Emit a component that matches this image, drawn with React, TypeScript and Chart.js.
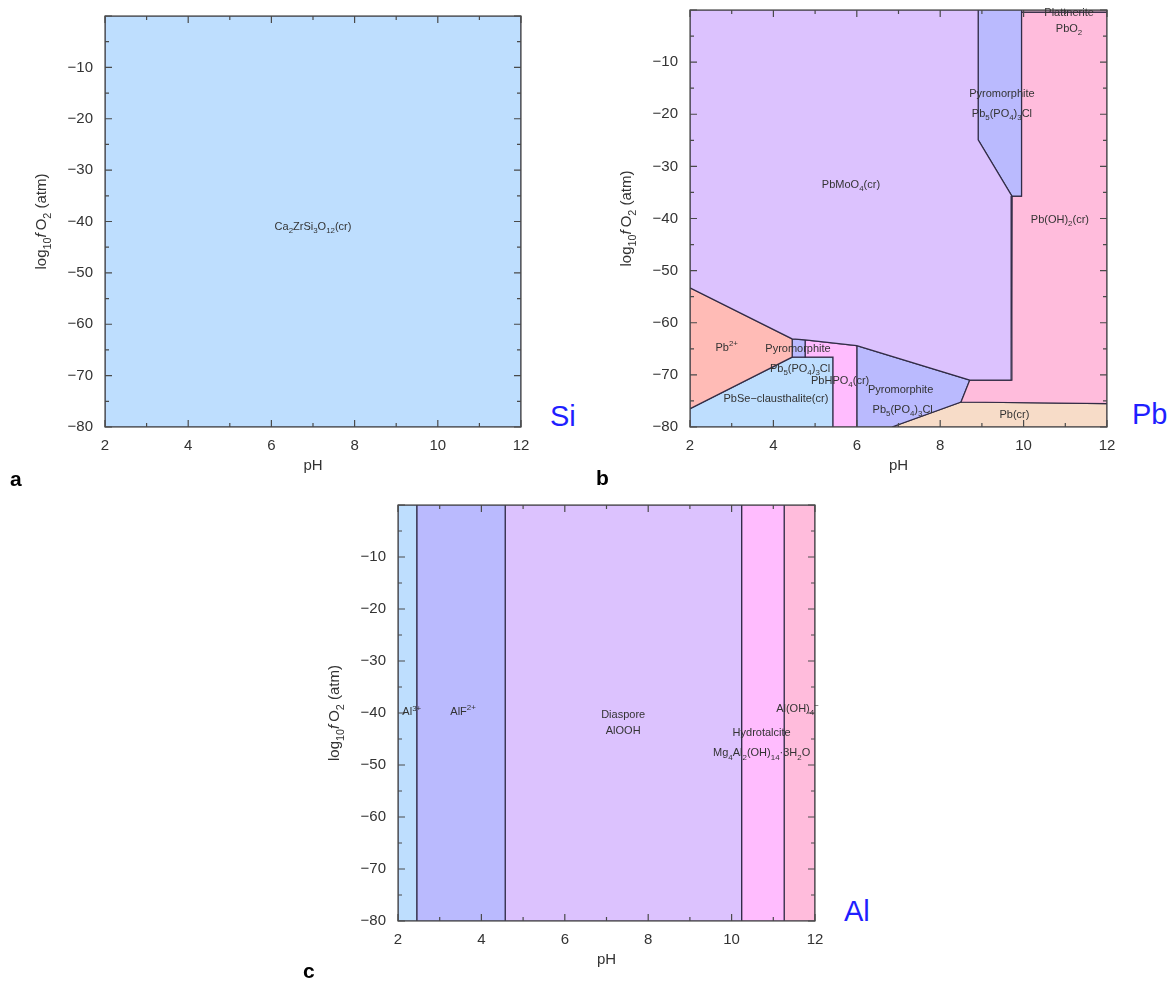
import React, { useEffect, useRef } from "react";
import { Chart, registerables } from "chart.js";

Chart.register(...registerables);

const FONT = '"Liberation Sans", Arial, Helvetica, sans-serif';
const EDGE = "rgba(45,40,65,0.95)";
const TEXT = "#333333";

// ---- shared axes ----
const phMin = 2;
const phMax = 12;
const logMin = -80;
const logMax = 0;
const phMajorTicks = [2, 4, 6, 8, 10, 12];
const phMinorTicks = [3, 5, 7, 9, 11];
const logMajorTicks = [-80, -70, -60, -50, -40, -30, -20, -10, 0];
const logMinorTicks = [-75, -65, -55, -45, -35, -25, -15, -5];

// ---- panel a : Si ----
const siRegionNames = ["Ca2ZrSi3O12(cr)"];
const siRegionColors = ["#bedefe"];
const siRegionPolygons = [
  [[2, 0], [12, 0], [12, -80], [2, -80]],
];
const siLabelTexts = ["Ca_{2}ZrSi_{3}O_{12}(cr)"];
const siLabelPH = [7.0];
const siLabelLog = [-40.9];

// ---- panel b : Pb ----
const pbRegionNames = [
  "PbMoO4(cr)", "Pyromorphite (upper)", "Plattnerite", "Pb(OH)2(cr)", "Pb2+",
  "Pyromorphite (small)", "PbHPO4(cr)", "PbSe-clausthalite(cr)", "Pyromorphite (lower)", "Pb(cr)",
];
const pbRegionColors = [
  "#dcc2fe", "#babafe", "#f4c4d8", "#ffbcdc", "#ffbbb6",
  "#babafe", "#ffbcfe", "#bedefe", "#babafe", "#f7dcc8",
];
const pbRegionPolygons = [
  [[2, 0], [8.91, 0], [8.91, -24.9], [9.72, -35.7], [9.7, -71.0], [8.71, -71.0], [6.0, -64.4], [4.76, -63.3], [4.45, -63.1], [2, -53.3]],
  [[8.91, 0], [9.95, 0], [9.95, -35.7], [9.72, -35.7], [8.91, -24.9]],
  [[9.95, 0], [12, 0], [12, -0.4], [9.95, -0.4]],
  [[9.95, -0.4], [12, -0.4], [12, -75.5], [8.5, -75.2], [8.71, -71.0], [9.7, -71.0], [9.72, -35.7], [9.95, -35.7]],
  [[2, -53.3], [4.45, -63.1], [4.45, -66.6], [2, -76.5]],
  [[4.45, -63.1], [4.76, -63.3], [4.76, -66.6], [4.45, -66.6]],
  [[4.76, -63.3], [6.0, -64.4], [6.0, -80], [5.43, -80], [5.43, -66.6], [4.76, -66.6]],
  [[2, -76.5], [4.45, -66.6], [5.43, -66.6], [5.43, -80], [2, -80]],
  [[6.0, -64.4], [8.71, -71.0], [8.5, -75.2], [6.84, -80], [6.0, -80]],
  [[6.84, -80], [8.5, -75.2], [12, -75.5], [12, -80]],
];
const pbLabelTexts = [
  "PbMoO_{4}(cr)", "Pyromorphite", "Pb_{5}(PO_{4})_{3}Cl", "Plattnerite", "PbO_{2}",
  "Pb(OH)_{2}(cr)", "Pb^{2+}", "Pyromorphite", "Pb_{5}(PO_{4})_{3}Cl", "PbHPO_{4}(cr)",
  "PbSe\u2212clausthalite(cr)", "Pyromorphite", "Pb_{5}(PO_{4})_{3}Cl", "Pb(cr)",
];
const pbLabelPH = [5.86, 9.48, 9.48, 11.09, 11.09, 10.87, 2.88, 4.59, 4.64, 5.6, 4.06, 7.05, 7.1, 9.78];
const pbLabelLog = [-33.4, -15.9, -19.8, -0.3, -3.5, -40.1, -64.6, -64.8, -68.7, -71.0, -74.4, -72.8, -76.6, -77.6];

// ---- panel c : Al ----
const alRegionNames = ["Al3+", "AlF2+", "Diaspore AlOOH", "Hydrotalcite", "Al(OH)4-"];
const alRegionColors = ["#bedefe", "#babafe", "#dcc2fe", "#ffbcfe", "#ffbcdc"];
const alRegionPolygons = [
  [[2, 0], [2.45, 0], [2.45, -80], [2, -80]],
  [[2.45, 0], [4.57, 0], [4.57, -80], [2.45, -80]],
  [[4.57, 0], [10.24, 0], [10.24, -80], [4.57, -80]],
  [[10.24, 0], [11.26, 0], [11.26, -80], [10.24, -80]],
  [[11.26, 0], [12, 0], [12, -80], [11.26, -80]],
];
const alLabelTexts = [
  "Al^{3+}", "AlF^{2+}", "Diaspore", "AlOOH", "Hydrotalcite",
  "Mg_{4}Al_{2}(OH)_{14}\u00b73H_{2}O", "Al(OH)_{4}^{\u2212}",
];
const alLabelPH = [2.33, 3.56, 7.4, 7.4, 10.72, 10.72, 11.58];
const alLabelLog = [-39.7, -39.6, -40.2, -43.2, -43.6, -47.6, -39.1];

// ---- rich text helpers ----
type Seg = { t: string; k: "n" | "sub" | "sup" | "it" };

function parseRich(s: string): Seg[] {
  const out: Seg[] = [];
  let i = 0;
  let buf = "";
  const flush = () => {
    if (buf) {
      out.push({ t: buf, k: "n" });
      buf = "";
    }
  };
  while (i < s.length) {
    const c = s[i];
    if ((c === "_" || c === "^") && s[i + 1] === "{") {
      flush();
      const j = s.indexOf("}", i + 2);
      out.push({ t: s.slice(i + 2, j), k: c === "_" ? "sub" : "sup" });
      i = j + 1;
    } else if (c === "*") {
      flush();
      const j = s.indexOf("*", i + 1);
      out.push({ t: s.slice(i + 1, j), k: "it" });
      i = j + 1;
    } else {
      buf += c;
      i++;
    }
  }
  flush();
  return out;
}

function drawRich(ctx: CanvasRenderingContext2D, s: string, x: number, y: number, size: number, color: string) {
  const segs = parseRich(s);
  const small = size * 0.72;
  const fontFor = (k: Seg["k"]) =>
    k === "sub" || k === "sup"
      ? `${small}px ${FONT}`
      : k === "it"
      ? `italic ${size}px ${FONT}`
      : `${size}px ${FONT}`;
  let w = 0;
  for (const sg of segs) {
    ctx.font = fontFor(sg.k);
    w += ctx.measureText(sg.t).width;
  }
  let cx = x - w / 2;
  const base = y + size * 0.36;
  ctx.fillStyle = color;
  ctx.textAlign = "left";
  ctx.textBaseline = "alphabetic";
  for (const sg of segs) {
    ctx.font = fontFor(sg.k);
    const dy = sg.k === "sub" ? size * 0.28 : sg.k === "sup" ? -size * 0.42 : 0;
    ctx.fillText(sg.t, cx, base + dy);
    cx += ctx.measureText(sg.t).width;
  }
}

type PanelProps = {
  plotLeft: number;
  plotTop: number;
  plotRight: number;
  plotBottom: number;
  names: string[];
  colors: string[];
  polygons: number[][][];
  labelTexts: string[];
  labelX: number[];
  labelY: number[];
};

const Y_AXIS_W = 105;
const X_AXIS_H = 53;
const PAD_TOP = 10;
const PAD_RIGHT = 20;

function PhasePanel(p: PanelProps) {
  const ref = useRef<HTMLCanvasElement>(null);
  const left = p.plotLeft - Y_AXIS_W;
  const top = p.plotTop - PAD_TOP;
  const width = p.plotRight + PAD_RIGHT - left;
  const height = p.plotBottom + X_AXIS_H - top;

  useEffect(() => {
    const framePlugin = {
      id: "frameTicks",
      afterDatasetsDraw(chart: any) {
        const { ctx, chartArea } = chart;
        const { left: l, right: r, top: t, bottom: b } = chartArea;
        const xs = chart.scales.x;
        const ys = chart.scales.y;
        ctx.save();
        ctx.strokeStyle = "#4a4a4a";
        ctx.lineWidth = 1.2;
        ctx.beginPath();
        const seg = (x1: number, y1: number, x2: number, y2: number) => {
          ctx.moveTo(x1, y1);
          ctx.lineTo(x2, y2);
        };
        for (const v of phMajorTicks) {
          const X = xs.getPixelForValue(v);
          seg(X, b, X, b - 7);
          seg(X, t, X, t + 7);
        }
        for (const v of phMinorTicks) {
          const X = xs.getPixelForValue(v);
          seg(X, b, X, b - 4);
          seg(X, t, X, t + 4);
        }
        for (const v of logMajorTicks) {
          const Y = ys.getPixelForValue(v);
          seg(l, Y, l + 7, Y);
          seg(r, Y, r - 7, Y);
        }
        for (const v of logMinorTicks) {
          const Y = ys.getPixelForValue(v);
          seg(l, Y, l + 4, Y);
          seg(r, Y, r - 4, Y);
        }
        ctx.stroke();
        ctx.strokeRect(l, t, r - l, b - t);
        ctx.restore();
      },
      afterDraw(chart: any) {
        const { ctx, chartArea } = chart;
        const xs = chart.scales.x;
        const ys = chart.scales.y;
        ctx.save();
        for (let i = 0; i < p.labelTexts.length; i++) {
          drawRich(ctx, p.labelTexts[i], xs.getPixelForValue(p.labelX[i]), ys.getPixelForValue(p.labelY[i]), 11, TEXT);
        }
        // y-axis title
        ctx.translate(chartArea.left - 64, (chartArea.top + chartArea.bottom) / 2);
        ctx.rotate(-Math.PI / 2);
        drawRich(ctx, "log_{10}*f*\u2009O_{2} (atm)", 0, 0, 15, TEXT);
        ctx.restore();
      },
    };

    const datasets = p.polygons.map((poly, i) => ({
      label: p.names[i],
      data: [...poly, poly[0]].map(([x, y]) => ({ x, y })),
      showLine: true,
      fill: "shape",
      backgroundColor: p.colors[i],
      borderColor: EDGE,
      borderWidth: 1.2,
      pointRadius: 0,
      pointHoverRadius: 0,
      tension: 0,
    }));

    const chart = new Chart(ref.current as HTMLCanvasElement, {
      type: "scatter",
      data: { datasets } as any,
      options: {
        responsive: false,
        animation: false,
        events: [],
        layout: { padding: { top: PAD_TOP, right: PAD_RIGHT, left: 0, bottom: 0 } },
        plugins: { legend: { display: false }, tooltip: { enabled: false } },
        scales: {
          x: {
            type: "linear",
            min: phMin,
            max: phMax,
            grid: { display: false, drawTicks: false },
            border: { display: false },
            ticks: {
              stepSize: 2,
              padding: 10,
              maxRotation: 0,
              autoSkip: false,
              color: TEXT,
              font: { size: 15, family: FONT },
            },
            title: {
              display: true,
              text: "pH",
              color: TEXT,
              font: { size: 15, family: FONT },
              padding: { top: 0, bottom: 5 },
            },
            afterFit: (s: any) => {
              s.height = X_AXIS_H;
              s.paddingLeft = 0;
              s.paddingRight = 0;
            },
          },
          y: {
            type: "linear",
            min: logMin,
            max: logMax,
            grid: { display: false, drawTicks: false },
            border: { display: false },
            ticks: {
              stepSize: 10,
              padding: 12,
              autoSkip: false,
              color: TEXT,
              font: { size: 15, family: FONT },
              callback: (v: any) => (v === 0 ? "" : v < 0 ? "\u2212" + Math.abs(v) : String(v)),
            },
            afterFit: (s: any) => {
              s.width = Y_AXIS_W;
              s.paddingTop = 0;
              s.paddingBottom = 0;
            },
          },
        },
      } as any,
      plugins: [framePlugin],
    });
    return () => chart.destroy();
  }, []);

  return (
    <canvas
      ref={ref}
      width={width}
      height={height}
      style={{ position: "absolute", left, top, width, height }}
    />
  );
}

const tagStyle = (left: number, top: number, size: number, color: string, bold: boolean): React.CSSProperties => ({
  position: "absolute",
  left,
  top,
  fontSize: size,
  lineHeight: "1",
  fontFamily: FONT,
  fontWeight: bold ? "bold" : "normal",
  color,
  whiteSpace: "nowrap",
});

export default function App() {
  return (
    <div style={{ position: "absolute", left: 0, top: 0, width: 1173, height: 985, background: "#ffffff", overflow: "hidden" }}>
      <PhasePanel
        plotLeft={105}
        plotTop={16}
        plotRight={521}
        plotBottom={427}
        names={siRegionNames}
        colors={siRegionColors}
        polygons={siRegionPolygons}
        labelTexts={siLabelTexts}
        labelX={siLabelPH}
        labelY={siLabelLog}
      />
      <PhasePanel
        plotLeft={690}
        plotTop={10}
        plotRight={1107}
        plotBottom={427}
        names={pbRegionNames}
        colors={pbRegionColors}
        polygons={pbRegionPolygons}
        labelTexts={pbLabelTexts}
        labelX={pbLabelPH}
        labelY={pbLabelLog}
      />
      <PhasePanel
        plotLeft={398}
        plotTop={505}
        plotRight={815}
        plotBottom={921}
        names={alRegionNames}
        colors={alRegionColors}
        polygons={alRegionPolygons}
        labelTexts={alLabelTexts}
        labelX={alLabelPH}
        labelY={alLabelLog}
      />
      <div style={tagStyle(550, 402, 29, "#1f1fff", false)}>Si</div>
      <div style={tagStyle(1132, 400, 29, "#1f1fff", false)}>Pb</div>
      <div style={tagStyle(844, 897, 29, "#1f1fff", false)}>Al</div>
      <div style={tagStyle(10, 468, 21, "#000", true)}>a</div>
      <div style={tagStyle(596, 467, 21, "#000", true)}>b</div>
      <div style={tagStyle(303, 960, 21, "#000", true)}>c</div>
    </div>
  );
}
